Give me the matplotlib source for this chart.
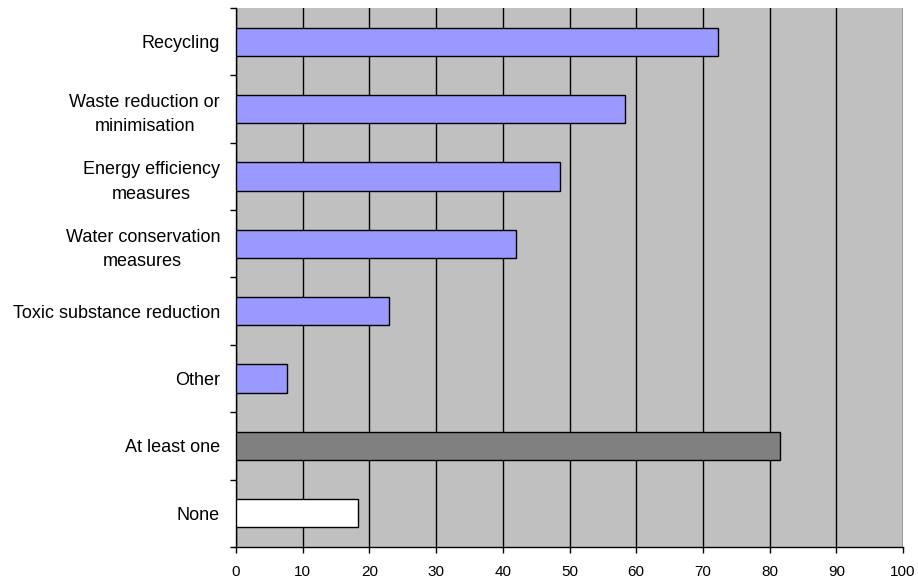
import numpy as np
import matplotlib
matplotlib.use("Agg")
import matplotlib.pyplot as plt
from matplotlib.ticker import FixedLocator

# ==============================================================
# DATA
# ==============================================================

categories = [
    "Recycling",
    "Waste reduction or\nminimisation",
    "Energy efficiency\nmeasures",
    "Water conservation\nmeasures",
    "Toxic substance reduction",
    "Other",
    "At least one",
    "None",
]
values = [72.2, 58.3, 48.5, 42.0, 22.9, 7.7, 81.6, 18.3]
bar_colors = ["#9999FF"] * 6 + ["#808080", "#FFFFFF"]
x_ticks = list(range(0, 101, 10))

# ==============================================================
# FIGURE
# ==============================================================

plt.rcParams["font.family"] = ["Liberation Sans", "DejaVu Sans"]

fig = plt.figure(figsize=(9.18, 5.79), dpi=100)
ax = fig.add_axes([0.2571, 0.0553, 0.7266, 0.9309])

ax.set_facecolor("#C0C0C0")

y = np.arange(len(categories))
ax.barh(y, values, height=0.42, color=bar_colors,
        edgecolor="black", linewidth=1.0, zorder=3)

ax.set_xlim(0, 100)
ax.set_ylim(len(categories) - 0.5, -0.5)

# vertical gridlines only
ax.set_xticks(x_ticks)
ax.xaxis.grid(True, color="black", linewidth=1.0, zorder=1)
ax.set_axisbelow(True)

# category labels at bar centres, tick marks at category boundaries
ax.set_yticks(y)
ax.set_yticklabels(categories, ha="right", multialignment="center",
                   fontsize=13, linespacing=1.55)
ax.yaxis.set_minor_locator(FixedLocator(np.arange(-0.5, len(categories), 1.0)))
ax.tick_params(axis="y", which="major", length=0, pad=11.5)
ax.tick_params(axis="y", which="minor", length=4, width=1, color="black")
ax.tick_params(axis="x", length=4, width=1, pad=9, labelsize=11)

for side in ("top", "right"):
    ax.spines[side].set_visible(False)
for side in ("left", "bottom"):
    ax.spines[side].set_color("black")
    ax.spines[side].set_linewidth(1.0)

fig.savefig("out.png", dpi=100)
